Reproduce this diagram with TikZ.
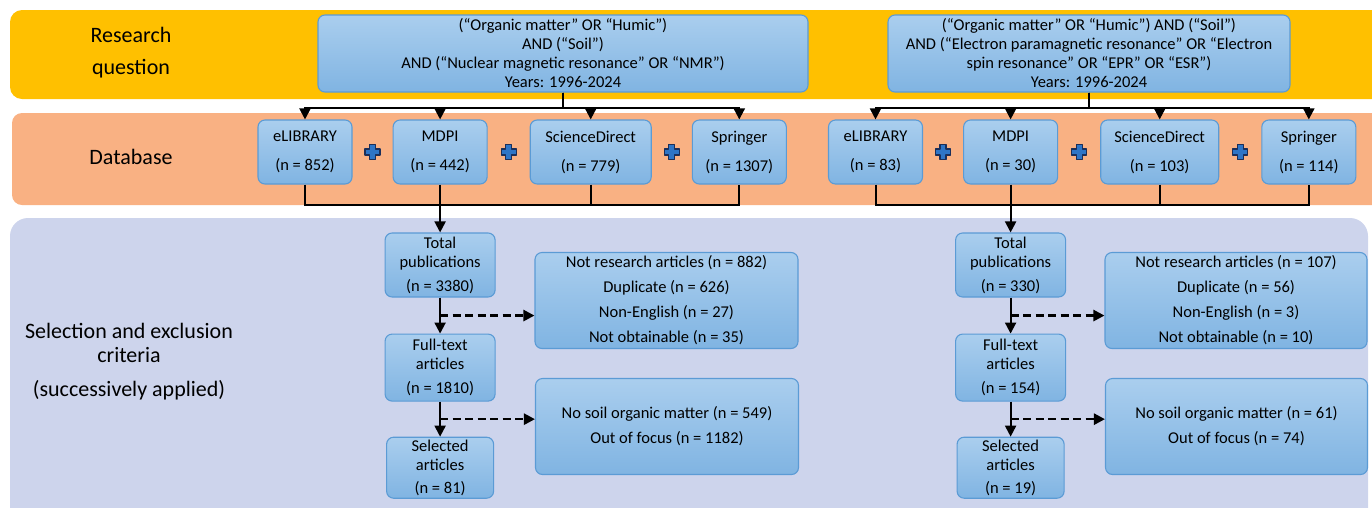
\documentclass[tikz,border=0pt]{standalone}
\usepackage{fontspec}
\setmainfont{Carlito}
\usepackage{tikz}
\usetikzlibrary{
  arrows.meta,
  positioning,  % Function "of" (e.g. [right=of x])
  calc,         % Midpoints $...!0.5!...$
}
\definecolor{bandyellow}{HTML}{FFC000}
\definecolor{bandorange}{HTML}{F9B183}
\definecolor{bandlilac}{HTML}{CDD4EC}
\definecolor{boxtop}{HTML}{AACEEE}
\definecolor{boxbottom}{HTML}{80B4E2}
\definecolor{boxline}{HTML}{5B9BD5}
\definecolor{plusfill}{HTML}{2E75C6}
\definecolor{plusline}{HTML}{1B2F5A}
\newcommand{\boxfont}{\fontsize{16.5}{19}\selectfont}
\newcommand{\labelfont}{\fontsize{22}{24}\selectfont}
\def\mygap{40pt}
\def\mygapwide{42pt}
\def\mystepgap{36pt}
\tikzset{
  my box/.style={
    draw=boxline,
    line width=1.1pt,
    rounded corners=7pt,
    top color=boxtop,
    bottom color=boxbottom,
    align=center,
    inner sep=1pt,
    font=\boxfont
  },
  db box/.style={
    my box,
    minimum width=94pt,
    minimum height=64pt
  },
  step box/.style={
    my box,
    minimum width=110pt,
    minimum height=64pt
  },
  out box/.style={
    my box,
    minimum width=263pt,
    minimum height=96pt
  },
  my label/.style={
    align=center,
    font=\labelfont
  },
  my line/.style={
    line width=2pt
  },
  my arrow/.style={
    my line,
    -{Triangle[length=11pt,width=11pt]}
  },
  my dashed arrow/.style={
    my arrow,
    line width=2.5pt,
    dash pattern=on 8pt off 4.5pt
  },
  plus sign/.pic={
    \filldraw[fill=plusfill, draw=plusline, line width=1.3pt, line join=round]
      (-3,-7.5) -- (3,-7.5) -- (3,-3) -- (7.5,-3) -- (7.5,3) -- (3,3) -- (3,7.5)
      -- (-3,7.5) -- (-3,3) -- (-7.5,3) -- (-7.5,-3) -- (-3,-3) -- cycle;
  }
}

\begin{document}
\begin{tikzpicture}[x=1pt,y=-1pt]
\useasboundingbox (0,0) rectangle (1372,507);
\clip (0,0) rectangle (1372,507);
% bands
\fill[bandyellow, rounded corners=12pt] (10,10) rectangle (1400,99);
\fill[bandorange, rounded corners=10pt] (12,113) rectangle (1400,205);
\fill[bandlilac, rounded corners=18pt] (10,218) rectangle (1368,540);
\node[my label] (rqlab)  at (131,53)  {Research\\[8pt]question};
\node[my label] (dblab)  at (131,157) {Database};
\node[my label] (sellab) at (129,362) {Selection and exclusion\\criteria\\[10pt](successively applied)};

% research questions
\node[my box, minimum width=490pt, minimum height=77pt] (qL) at (563,53.5)
  {(“Organic matter” OR “Humic”)\\AND (“Soil”)\\AND (“Nuclear magnetic resonance” OR “NMR”)\\Years: 1996-2024};
\node[my box, minimum width=402pt, minimum height=77pt] (qR) at (1089,53.5)
  {(“Organic matter” OR “Humic”) AND (“Soil”)\\AND (“Electron paramagnetic resonance” OR “Electron\\spin resonance” OR “EPR” OR “ESR”)\\Years: 1996-2024};

% databases, left
\node[db box]                                      (dbL1) at (305,152) {eLIBRARY\\[10pt](n = 852)};
\node[db box, right=\mygap of dbL1]                (dbL2) {MDPI\\[10pt](n = 442)};
\node[db box, minimum width=121pt, right=\mygapwide of dbL2] (dbL3) {ScienceDirect\\[10pt](n = 779)};
\node[db box, right=\mygap of dbL3]                (dbL4) {Springer\\[10pt](n = 1307)};
% databases, right
\node[db box]                                      (dbR1) at (875.5,152) {eLIBRARY\\[10pt](n = 83)};
\node[db box, right=\mygap of dbR1]                (dbR2) {MDPI\\[10pt](n = 30)};
\node[db box, minimum width=118pt, right=\mygapwide of dbR2] (dbR3) {ScienceDirect\\[10pt](n = 103)};
\node[db box, right=\mygapwide of dbR3]            (dbR4) {Springer\\[10pt](n = 114)};
\pic at ($(dbL1.east)!0.5!(dbL2.west)$) {plus sign};
\pic at ($(dbL2.east)!0.5!(dbL3.west)$) {plus sign};
\pic at ($(dbL3.east)!0.5!(dbL4.west)$) {plus sign};
\pic at ($(dbR1.east)!0.5!(dbR2.west)$) {plus sign};
\pic at ($(dbR2.east)!0.5!(dbR3.west)$) {plus sign};
\pic at ($(dbR3.east)!0.5!(dbR4.west)$) {plus sign};

% selection steps, left
\node[step box]                                           (totL) at (dbL2 |- 0,265) {Total\\publications\\[5pt](n = 3380)};
\node[step box, minimum height=67pt, below=\mystepgap of totL] (ftL) {Full-text\\articles\\[5pt](n = 1810)};
\node[step box, minimum width=107pt, minimum height=61pt, below=35pt of ftL] (selL) {Selected\\articles\\[4pt](n = 81)};
\node[out box] (exL1) at (666.5,300.5) {Not research articles (n = 882)\\[6pt]Duplicate (n = 626)\\[6pt]Non-English (n = 27)\\[6pt]Not obtainable (n = 35)};
\node[out box] (exL2) at (667,426.5)   {No soil organic matter (n = 549)\\[6pt]Out of focus (n = 1182)};
% selection steps, right
\node[step box]                                           (totR) at (dbR2 |- 0,265) {Total\\publications\\[5pt](n = 330)};
\node[step box, minimum height=67pt, below=\mystepgap of totR] (ftR) {Full-text\\articles\\[5pt](n = 154)};
\node[step box, minimum width=107pt, minimum height=61pt, below=35pt of ftR] (selR) {Selected\\articles\\[4pt](n = 19)};
\node[out box, minimum width=262pt] (exR1) at (1236,300.5) {Not research articles (n = 107)\\[6pt]Duplicate (n = 56)\\[6pt]Non-English (n = 3)\\[6pt]Not obtainable (n = 10)};
\node[out box, minimum width=262pt] (exR2) at (1236.5,426.5) {No soil organic matter (n = 61)\\[6pt]Out of focus (n = 74)};

% connectors
\draw[my arrow] (qL.south) -- ++(0,15) -| (dbL1.north);
\draw[my arrow] (qL.south) -- ++(0,15) -| (dbL2.north);
\draw[my arrow] (qL.south) -- ++(0,15) -| (dbL3.north);
\draw[my arrow] (qL.south) -- ++(0,15) -| (dbL4.north);
\draw[my arrow] (qR.south) -- ++(0,15) -| (dbR1.north);
\draw[my arrow] (qR.south) -- ++(0,15) -| (dbR2.north);
\draw[my arrow] (qR.south) -- ++(0,15) -| (dbR3.north);
\draw[my arrow] (qR.south) -- ++(0,15) -| (dbR4.north);
\draw[my line] (dbL1.south) -- ++(0,20) -| (dbL4.south);
\draw[my line] (dbL3.south) -- ++(0,20);
\draw[my line] (dbR1.south) -- ++(0,20) -| (dbR4.south);
\draw[my line] (dbR3.south) -- ++(0,20);
\draw[my arrow] (dbL2.south) -- (totL.north);
\draw[my arrow] (dbR2.south) -- (totR.north);
\draw[my arrow] (totL) -- (ftL);
\draw[my arrow] (ftL) -- (selL);
\draw[my arrow] (totR) -- (ftR);
\draw[my arrow] (ftR) -- (selR);
\coordinate (cL1) at ($(totL.south)!0.5!(ftL.north)$);
\coordinate (cL2) at ($(ftL.south)!0.5!(selL.north)$);
\coordinate (cR1) at ($(totR.south)!0.5!(ftR.north)$);
\coordinate (cR2) at ($(ftR.south)!0.5!(selR.north)$);
\draw[my dashed arrow] (cL1) -- (cL1 -| exL1.west);
\draw[my dashed arrow] (cL2) -- (cL2 -| exL2.west);
\draw[my dashed arrow] (cR1) -- (cR1 -| exR1.west);
\draw[my dashed arrow] (cR2) -- (cR2 -| exR2.west);
\end{tikzpicture}
\end{document}
